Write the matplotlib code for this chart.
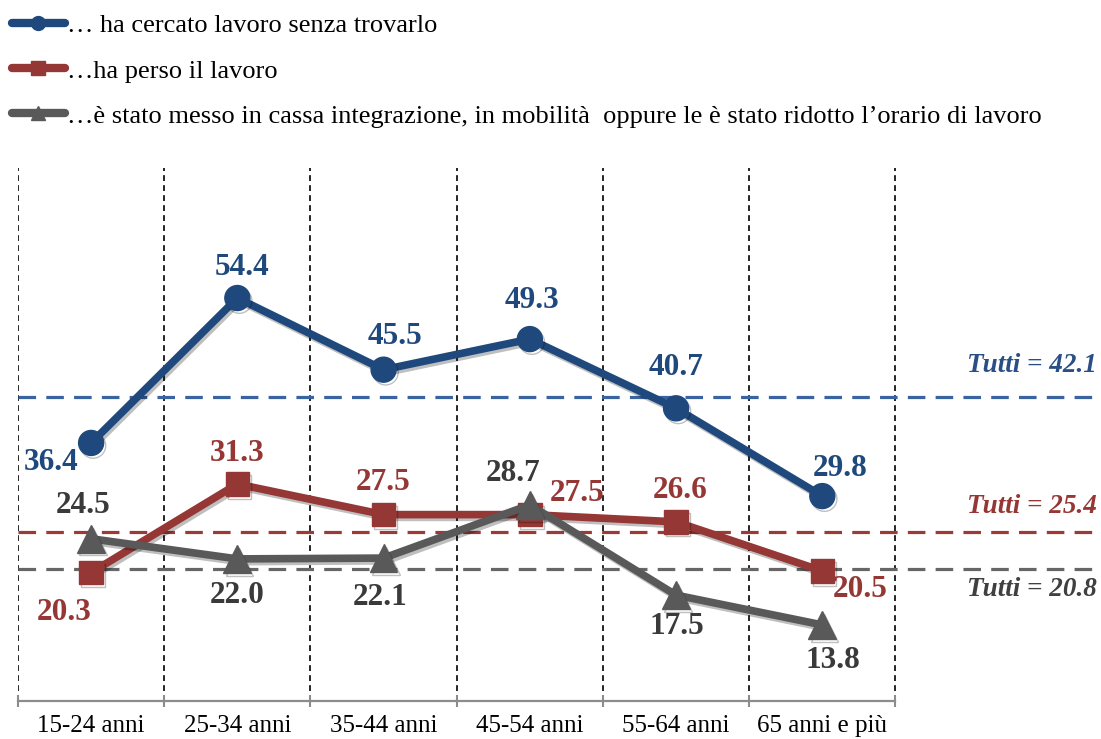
import matplotlib
matplotlib.use("Agg")
import matplotlib.pyplot as plt
from matplotlib.lines import Line2D
import matplotlib.patheffects as pe

# ---------------- data ----------------
categories = ["15-24 anni", "25-34 anni", "35-44 anni", "45-54 anni", "55-64 anni", "65 anni e più"]
series_names = [
    "\u2026 ha cercato lavoro senza trovarlo",
    "\u2026ha perso il lavoro",
    "\u2026è stato messo in cassa integrazione, in mobilità  oppure le è stato ridotto l\u2019orario di lavoro",
]
cercato = [36.4, 54.4, 45.5, 49.3, 40.7, 29.8]
perso = [20.3, 31.3, 27.5, 27.5, 26.6, 20.5]
cassa = [24.5, 22.0, 22.1, 28.7, 17.5, 13.8]
tutti = [42.1, 25.4, 20.8]

# ---------------- style ----------------
colors = ["#1F497D", "#953735", "#595959"]
ref_colors = ["#3A64A0", "#9B3B38", "#666666"]
label_colors = ["#1F497D", "#953735", "#3A3A3A"]
tutti_colors = ["#2A4F86", "#953735", "#404040"]
markers = ["o", "s", "^"]
msizes = [18, 17, 20]
# label offsets in pixels (dx, dy up)
offsets = [
    [(-40, -20), (5, 31), (11, 33), (2, 39), (0, 41), (18, 28)],
    [(-27, -40), (0, 31), (0, 32), (47, 21), (4, 31), (38, -19)],
    [(-8, 33), (0, -37), (-3, -39), (-17, 31), (1, -31), (11, -36)],
]
tutti_dy = [32, 25, -21]

plt.rcParams["font.family"] = ["Liberation Serif", "DejaVu Serif"]

W, H = 1101, 739
fig = plt.figure(figsize=(W / 100, H / 100), dpi=100)
ax = fig.add_axes([18 / W, (H - 701) / H, (W - 18) / W, (701 - 168) / H])

n = len(categories)
x = list(range(n))
ax.set_xlim(-0.5, 5 + (1101 - 822) / 146.4)
ax.set_ylim(4.35, 70.55)

# vertical dashed separators
for b in range(n + 1):
    ax.axvline(b - 0.5, color="black", lw=1.2, dashes=(3.5, 2.5), zorder=1)

# reference lines
for val, c in zip(tutti, ref_colors):
    ax.axhline(val, xmin=0, xmax=1, color=c, lw=2.3, dashes=(5.5, 3.2), zorder=2)

shadow = [pe.SimpleLineShadow(offset=(1.5, -2), alpha=0.25, shadow_color="black"), pe.Normal()]
all_series = [cercato, perso, cassa]
for vals, c, m, ms, offs, lc in zip(all_series, colors, markers, msizes, offsets, label_colors):
    ax.plot(x, vals, color=c, lw=5.5, marker=m, markersize=ms, zorder=3,
            solid_capstyle="round", path_effects=shadow)
    for xi, v, (dx, dy) in zip(x, vals, offs):
        ax.annotate(f"{v:.1f}", (xi, v), xytext=(dx, dy), textcoords="offset pixels",
                    ha="center", va="center", fontsize=22.5, fontweight="bold", color=lc, zorder=5)

for val, c, dy in zip(tutti, tutti_colors, tutti_dy):
    ax.annotate(f"Tutti = {val:.1f}", (1.0, val), xycoords=("axes fraction", "data"),
                xytext=(-4, dy), textcoords="offset pixels", ha="right", va="center",
                fontsize=19.5, fontweight="bold", fontstyle="italic", color=c)

# axes decoration
for s in ["top", "left", "right"]:
    ax.spines[s].set_visible(False)
ax.spines["bottom"].set_bounds(-0.5, 5.5)
ax.spines["bottom"].set_color("#8C8C8C")
ax.spines["bottom"].set_linewidth(1.6)
ax.set_yticks([])
ax.set_xticks(x)
ax.set_xticklabels(categories, fontsize=18)
ax.tick_params(axis="x", which="major", length=0, pad=10)
ax.set_xticks([b - 0.5 for b in range(n + 1)], minor=True)
ax.tick_params(axis="x", which="minor", length=9, width=1.5, color="#8C8C8C", direction="inout")

# legend
handles = [Line2D([0], [0], color=c, lw=6, marker=m, markersize=10, solid_capstyle="round")
           for c, m in zip(colors, markers)]
fig.legend(handles, series_names, loc="upper left", bbox_to_anchor=(12 / W, 1 - 14 / H),
           frameon=False, fontsize=19, handlelength=2.0, handletextpad=0.1,
           borderpad=0, borderaxespad=0, labelspacing=0.82)

fig.savefig("out.png", dpi=100)
